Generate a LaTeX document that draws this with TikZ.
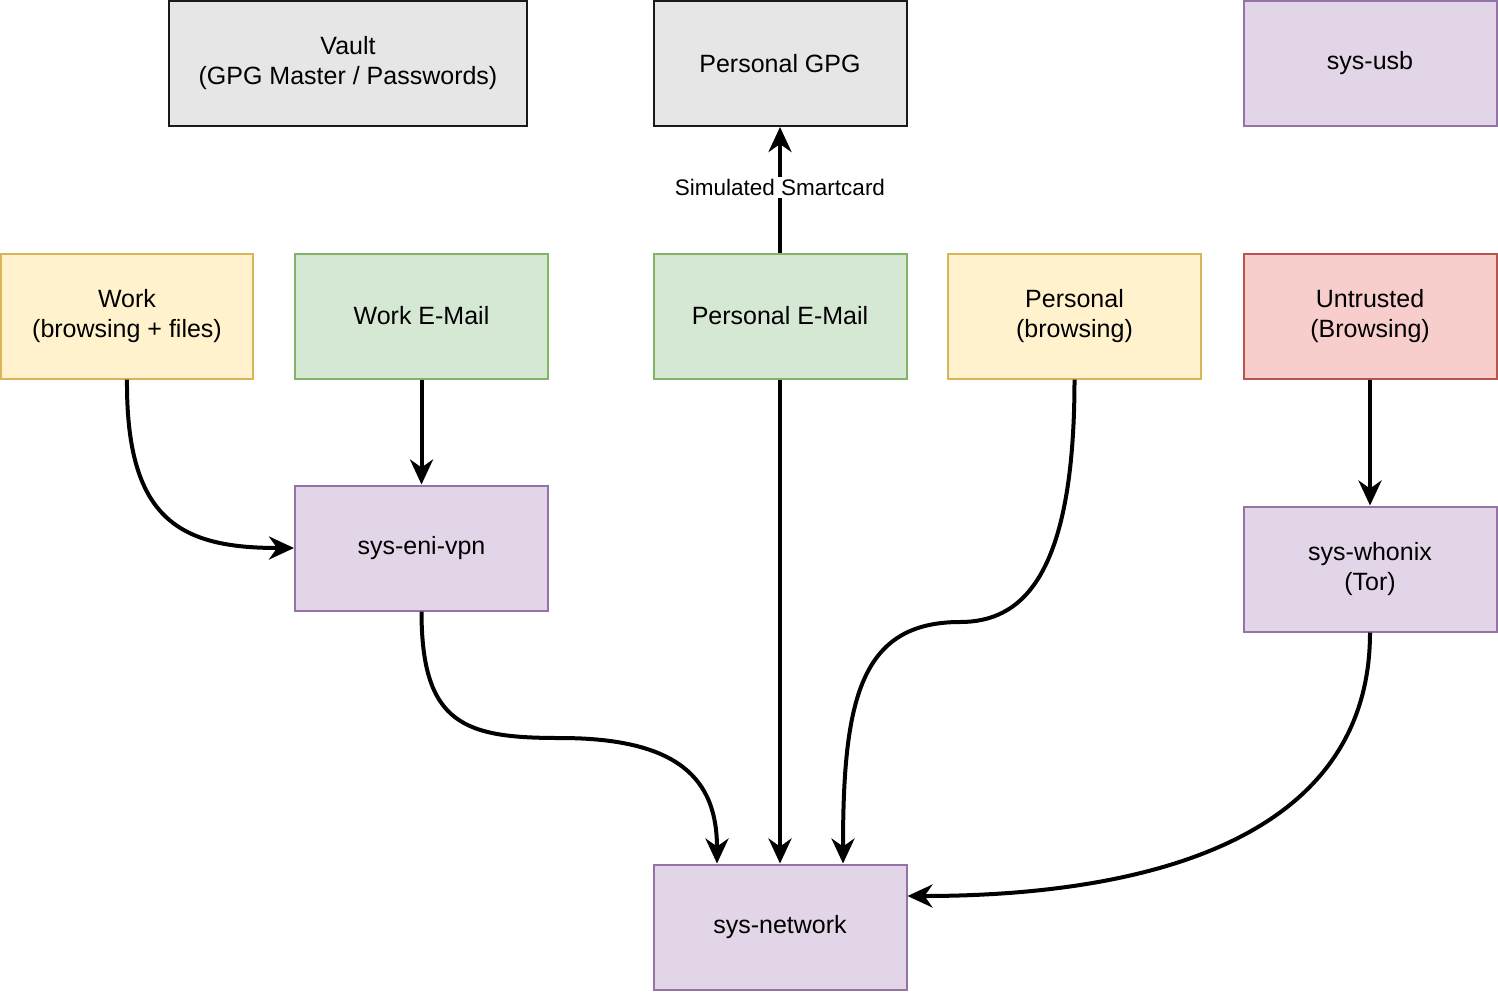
\documentclass[tikz,border=0pt]{standalone}
\usepackage{fontspec}
\setmainfont{Liberation Sans}
\usetikzlibrary{arrows.meta}
\definecolor{grayF}{HTML}{E6E6E6}
\definecolor{grayS}{HTML}{1A1A1A}
\definecolor{yelF}{HTML}{FFF2CC}
\definecolor{yelS}{HTML}{D6B656}
\definecolor{grnF}{HTML}{D5E8D4}
\definecolor{grnS}{HTML}{82B366}
\definecolor{purF}{HTML}{E1D5E7}
\definecolor{purS}{HTML}{9673A6}
\definecolor{redF}{HTML}{F8CECC}
\definecolor{redS}{HTML}{B85450}
\begin{document}
\begin{tikzpicture}[x=1pt,y=-1pt,
  box/.style={draw, line width=2pt, minimum width=253pt, minimum height=125pt, inner sep=0pt, align=center, font=\fontsize{25}{30}\selectfont},
  gbox/.style={box, fill=grayF, draw=grayS},
  ybox/.style={box, fill=yelF, draw=yelS},
  grbox/.style={box, fill=grnF, draw=grnS},
  pbox/.style={box, fill=purF, draw=purS},
  rbox/.style={box, fill=redF, draw=redS},
  conn/.style={line width=4pt, -{Stealth[length=25pt,width=23pt,inset=8pt]}},
  lbl/.style={fill=white, inner sep=2pt, font=\fontsize{22.5}{27}\selectfont}]
\useasboundingbox (0,0) rectangle (1498,994);
\node[gbox, minimum width=358pt] (vault) at (348,63.5) {Vault\\(GPG Master / Passwords)};
\node[gbox] (pgpg) at (780,63.5) {Personal GPG};
\node[pbox] (usb) at (1370,63.5) {sys-usb};
\node[ybox, minimum width=252pt] (work) at (127,316) {Work\\(browsing + files)};
\node[grbox] (wmail) at (421.5,316) {Work E-Mail};
\node[grbox] (pmail) at (780,316) {Personal E-Mail};
\node[ybox] (pbrow) at (1074.5,316) {Personal\\(browsing)};
\node[rbox] (untr) at (1370,316) {Untrusted\\(Browsing)};
\node[pbox] (vpn) at (421.5,548) {sys-eni-vpn};
\node[pbox] (whonix) at (1370,569) {sys-whonix\\(Tor)};
\node[pbox] (net) at (780,927) {sys-network};

\coordinate (w1) at (560,738);
\coordinate (w2) at (960,622);

\draw[conn] (pmail.north) -- node[lbl, pos=0.5, yshift=2pt] {Simulated Smartcard} (pgpg.south);
\draw[conn] (wmail.south) -- (vpn.north);
\draw[conn] (untr.south) -- (whonix.north);
\draw[conn] (pmail.south) -- (net.north);
\draw[conn] (work.south) .. controls (126,520) and (180,548) .. (vpn.west);
\draw[conn] (vpn.south) .. controls (421.5,725) and (465,738) .. (w1)
  .. controls (680,738) and (717,780) .. ([xshift=-63pt]net.north);
\draw[conn] (pbrow.south) .. controls (1074.5,580) and (1020,622) .. (w2)
  .. controls (860,622) and (843,700) .. ([xshift=63pt]net.north);
\draw[conn] (whonix.south) .. controls (1370,860) and (1100,896) .. ([yshift=31pt]net.east);
\end{tikzpicture}
\end{document}
